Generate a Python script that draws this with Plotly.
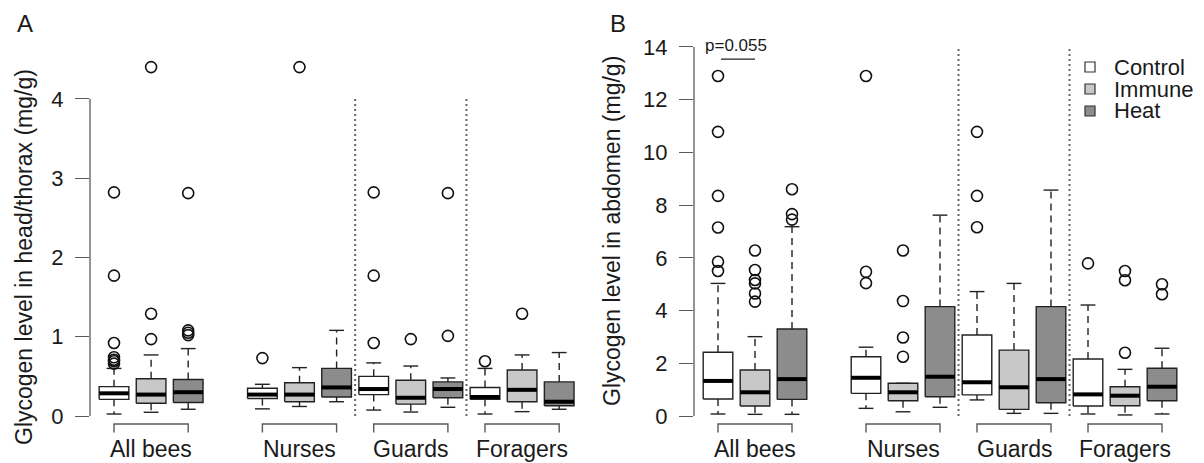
import plotly.graph_objects as go

# ---------------- data ----------------
groups = ["All bees", "Nurses", "Guards", "Foragers"]
treatments = ["Control", "Immune", "Heat"]
fills = ["#ffffff", "#c8c8c8", "#8c8c8c"]

# stats per group: (lower whisker, Q1, median, Q3, upper whisker)
head_control = [(0.025, 0.21, 0.286, 0.37, 0.60), (0.09, 0.22, 0.27, 0.35, 0.40),
                (0.075, 0.27, 0.34, 0.50, 0.67), (0.025, 0.21, 0.24, 0.36, 0.60)]
head_immune = [(0.047, 0.16, 0.27, 0.47, 0.77), (0.12, 0.18, 0.27, 0.42, 0.61),
               (0.05, 0.15, 0.23, 0.45, 0.63), (0.055, 0.18, 0.33, 0.58, 0.77)]
head_heat = [(0.085, 0.17, 0.30, 0.46, 0.85), (0.18, 0.24, 0.36, 0.60, 1.08),
             (0.11, 0.23, 0.34, 0.43, 0.48), (0.085, 0.13, 0.18, 0.43, 0.80)]
head_control_out = [[0.66, 0.69, 0.71, 0.74, 0.92, 1.77, 2.82], [0.73],
                    [0.92, 1.77, 2.82], [0.69]]
head_immune_out = [[0.97, 1.29, 4.40], [4.40], [0.97], [1.29]]
head_heat_out = [[1.02, 1.05, 1.08, 2.81], [], [1.01, 2.81], []]

abd_control = [(0.076, 0.645, 1.33, 2.42, 5.03), (0.29, 0.86, 1.45, 2.25, 2.61),
               (0.61, 0.80, 1.28, 3.07, 4.72), (0.076, 0.38, 0.82, 2.16, 4.21)]
abd_immune = [(0.063, 0.38, 0.90, 1.745, 3.01), (0.16, 0.58, 0.90, 1.24, 1.24),
              (0.10, 0.25, 1.09, 2.50, 5.03), (0.04, 0.39, 0.77, 1.11, 1.77)]
abd_heat = [(0.063, 0.63, 1.40, 3.30, 7.18), (0.33, 0.73, 1.49, 4.15, 7.62),
            (0.10, 0.50, 1.40, 4.15, 8.57), (0.076, 0.58, 1.11, 1.81, 2.57)]
abd_control_out = [[5.5, 5.85, 7.15, 8.35, 10.78, 12.9], [5.04, 5.47, 12.9],
                   [7.16, 8.35, 10.78], [5.79]]
abd_immune_out = [[4.34, 4.65, 5.03, 5.16, 5.54, 6.28], [2.25, 2.98, 4.36, 6.28],
                  [], [2.40, 5.15, 5.50]]
abd_heat_out = [[7.45, 7.66, 8.60], [], [], [4.62, 5.00]]

head_ticks = [0, 1, 2, 3, 4]
abd_ticks = [0, 2, 4, 6, 8, 10, 12, 14]
p_label = "p=0.055"
p_y = 13.54
ylabels = ["Glycogen level in head/thorax (mg/g)", "Glycogen level in abdomen (mg/g)"]

# ---------------- layout helpers ----------------
FONT = "Liberation Sans, Arial, sans-serif"
TXT = "#1a1a1a"
AXC = "#5a5a5a"
group_start = [1, 5, 8, 11]
BW = 0.4   # half box width
CW = 0.2   # half cap width
OFF = 8    # page body margin of the html page
W, H = 1204 - OFF, 463 - OFF
# plot area in reference-pixel coordinates
PL, PR, PT, PB = 90, 1200, 40, 425
L, R, T, B = PL - OFF, W - (PR - OFF), PT - OFF, H - (PB - OFF)
PW, PH = PR - PL, PB - PT


def px_x(X):
    return (X - PL) / PW


def px_y(Y):
    return (PB - Y) / PH


fig = go.Figure()


def add_panel(stats_list, outs_list, xa, ya):
    for ti, (stats, outs) in enumerate(zip(stats_list, outs_list)):
        wx, wy, bx, by, mx, my, cx, cy, ox, oy = [], [], [], [], [], [], [], [], [], []
        for gi, (lo, q1, md, q3, hi) in enumerate(stats):
            p = group_start[gi] + ti
            wx += [p, p, None, p, p, None]
            wy += [q3, hi, None, q1, lo, None]
            bx += [p - BW, p + BW, p + BW, p - BW, p - BW, None]
            by += [q1, q1, q3, q3, q1, None]
            mx += [p - BW, p + BW, None]
            my += [md, md, None]
            cx += [p - CW, p + CW, None, p - CW, p + CW, None]
            cy += [hi, hi, None, lo, lo, None]
            ox += [p] * len(outs[gi])
            oy += list(outs[gi])
        common = dict(xaxis=xa, yaxis=ya, showlegend=False, hoverinfo="skip")
        fig.add_trace(go.Scatter(x=wx, y=wy, mode="lines",
                                 line=dict(color="#222", width=1.4, dash="7px,5px"), **common))
        fig.add_trace(go.Scatter(x=bx, y=by, mode="lines", fill="toself",
                                 fillcolor=fills[ti], line=dict(color="#222", width=1.4),
                                 name=treatments[ti], **common))
        fig.add_trace(go.Scatter(x=mx, y=my, mode="lines",
                                 line=dict(color="#000", width=4), **common))
        fig.add_trace(go.Scatter(x=cx, y=cy, mode="lines",
                                 line=dict(color="#222", width=1.4), **common))
        fig.add_trace(go.Scatter(x=ox, y=oy, mode="markers",
                                 marker=dict(symbol="circle-open", size=11, color="#111",
                                             line=dict(width=1.6, color="#111")), **common))


add_panel([head_control, head_immune, head_heat],
          [head_control_out, head_immune_out, head_heat_out], "x", "y")
add_panel([abd_control, abd_immune, abd_heat],
          [abd_control_out, abd_immune_out, abd_heat_out], "x2", "y2")

# p-value bar
fig.add_trace(go.Scatter(x=[1.08, 2.0], y=[p_y, p_y], mode="lines", xaxis="x2", yaxis="y2",
                         line=dict(color="#222", width=1.3), showlegend=False, hoverinfo="skip"))

# axes
domA = [0, px_x(585)]
domB = [px_x(694), 1.0]
xA_range = [1 - (114 - PL) / 37.1, 1 + (585 - 114) / 37.1]
xB_range = [1 - (718 - 694) / 37.0, 1 + (PR - 718) / 37.0]
yA_range = [(416 - PB) / 79.3, (416 - PT) / 79.3]
yB_range = [(416 - PB) / 26.36, (416 - PT) / 26.36]

xcommon = dict(showgrid=False, zeroline=False, showline=False, showticklabels=False, ticks="")
ycommon = dict(showgrid=False, zeroline=False, showline=False, ticks="outside", ticklen=14,
               tickwidth=1.3, tickcolor=AXC, ticklabelstandoff=7,
               tickfont=dict(family=FONT, size=22, color=TXT))

fig.update_layout(
    width=W, height=H, margin=dict(l=L, r=R, t=T, b=B),
    paper_bgcolor="white", plot_bgcolor="white", showlegend=False,
    xaxis=dict(domain=domA, range=xA_range, **xcommon),
    xaxis2=dict(domain=domB, range=xB_range, **xcommon),
    yaxis=dict(anchor="x", range=yA_range, tickvals=head_ticks, **ycommon),
    yaxis2=dict(anchor="x2", range=yB_range, tickvals=abd_ticks, **ycommon),
)

shapes = []
annotations = []
# y axis lines (R style: only between first and last tick)
for xr, yr, tv in [("x domain", "y", head_ticks), ("x2 domain", "y2", abd_ticks)]:
    shapes.append(dict(type="line", xref=xr, yref=yr, x0=0, x1=0, y0=tv[0], y1=tv[-1],
                       line=dict(color=AXC, width=1.3)))
# dotted separators
for xr, yr, top in [("x", "y", head_ticks[-1]), ("x2", "y2", abd_ticks[-1])]:
    for xs in (7.5, 10.5):
        shapes.append(dict(type="line", xref=xr, yref=yr, x0=xs, x1=xs, y0=0, y1=top,
                           line=dict(color="#666", width=2, dash="2px,3px")))
# group brackets and labels
yt, yb = px_y(424), px_y(432.5)
for xr in ("x", "x2"):
    for gi, g in enumerate(groups):
        a, b = group_start[gi], group_start[gi] + 2
        shapes.append(dict(type="path", xref=xr, yref="paper",
                           path=f"M {a},{yb} L {a},{yt} L {b},{yt} L {b},{yb}",
                           line=dict(color=AXC, width=1.4)))
        annotations.append(dict(text=g, xref=xr, yref="paper", x=a + 1, y=px_y(449),
                                xanchor="center", yanchor="middle", showarrow=False,
                                font=dict(family=FONT, size=23, color=TXT)))

# y titles
annotations.append(dict(text=ylabels[0], xref="paper", yref="paper", x=px_x(24), y=px_y(257),
                        textangle=-90, xanchor="center", yanchor="middle", showarrow=False,
                        font=dict(family=FONT, size=23, color=TXT)))
annotations.append(dict(text=ylabels[1], xref="paper", yref="paper", x=px_x(612), y=px_y(231),
                        textangle=-90, xanchor="center", yanchor="middle", showarrow=False,
                        font=dict(family=FONT, size=23, color=TXT)))
# panel letters
annotations.append(dict(text="A", xref="paper", yref="paper", x=px_x(25), y=px_y(24),
                        xanchor="center", yanchor="middle", showarrow=False,
                        font=dict(family=FONT, size=24, color=TXT)))
annotations.append(dict(text="B", xref="paper", yref="paper", x=px_x(618), y=px_y(23),
                        xanchor="center", yanchor="middle", showarrow=False,
                        font=dict(family=FONT, size=24, color=TXT)))
# p value text
annotations.append(dict(text=p_label, xref="x2", yref="y2", x=1.49, y=14.04,
                        xanchor="center", yanchor="middle", showarrow=False,
                        font=dict(family=FONT, size=17, color=TXT)))
# legend (manual, R style)
for i, (t, c) in enumerate(zip(treatments, fills)):
    cy = 67 + 22 * i
    shapes.append(dict(type="rect", xref="paper", yref="paper",
                       x0=px_x(1085), x1=px_x(1095), y0=px_y(cy + 5), y1=px_y(cy - 5),
                       fillcolor=c, line=dict(color="#333", width=1.2)))
    annotations.append(dict(text=t, xref="paper", yref="paper", x=px_x(1112), y=px_y(cy),
                            xanchor="left", yanchor="middle", showarrow=False,
                            font=dict(family=FONT, size=22, color=TXT)))

fig.update_layout(shapes=shapes, annotations=annotations)
fig.write_html("out.html")
